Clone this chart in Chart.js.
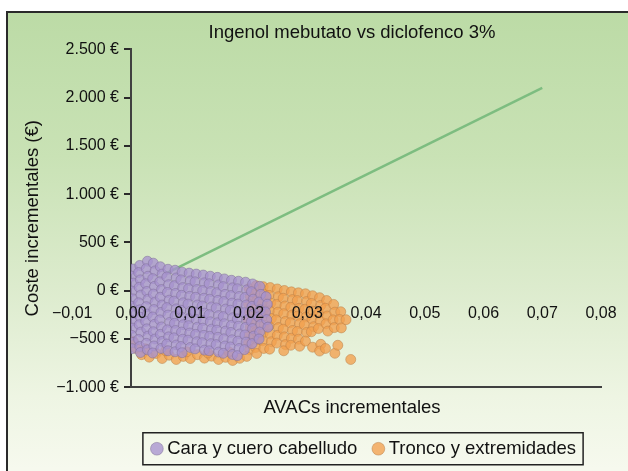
<!DOCTYPE html>
<html lang="es">
<head>
<meta charset="utf-8">
<title>Ingenol mebutato vs diclofenco 3%</title>
<script src="https://cdn.jsdelivr.net/npm/chart.js@4/dist/chart.umd.min.js"></script>
<style>
  html, body { margin: 0; padding: 0; overflow: hidden; background: #fff; }
  #marco {
    position: absolute; left: 6px; top: 11px;
    width: 720px; height: 480px;
    border: 2px solid #2a2a2a;
    background: linear-gradient(to bottom, #bcdba6 0%, #c9e2b5 30%, #dcebcd 57%, #eef5e3 80%, #f6f9ee 95%);
  }
  #chart { position: absolute; left: 0; top: 0; }
</style>
</head>
<body>
<div id="marco"><canvas id="chart" width="688" height="455"></canvas></div>
<script>
// ticks de los ejes
const yTicks = [-1000, -500, 0, 500, 1000, 1500, 2000, 2500];
const yTickLabels = ['−1.000 €', '−500 €', '0 €', '500 €', '1.000 €', '1.500 €', '2.000 €', '2.500 €'];
const xTicks = [-0.01, 0, 0.01, 0.02, 0.03, 0.04, 0.05, 0.06, 0.07, 0.08];
const xTickLabels = ['−0,01', '0,00', '0,01', '0,02', '0,03', '0,04', '0,05', '0,06', '0,07', '0,08'];

const series = ['Cara y cuero cabelludo', 'Tronco y extremidades'];

// umbral de disponibilidad a pagar (recta)
const umbral = [[0.0058, 174], [0.07, 2100]];

// nube de simulaciones: [AVAC incremental, coste incremental]
const caraPoints = [
  [0.0003,225],[0.0001,150],[0.0004,78],[0.0002,-5],[0.0003,-85],[0.0001,-162],[0.0004,-238],[0.0002,-312],[0.0003,-388],[0.0001,-462],[0.0004,-535],[0.0002,-600],
  [0.0015,262],[0.0013,188],[0.0016,112],[0.0014,35],[0.0017,-45],[0.0013,-125],[0.0015,-198],[0.0016,-275],[0.0014,-352],[0.0017,-428],[0.0013,-505],[0.0015,-578],[0.0016,-640],
  [0.0028,305],[0.0026,228],[0.0029,150],[0.0025,72],[0.0027,-8],[0.0029,-88],[0.0026,-165],[0.0028,-242],[0.0025,-318],[0.0027,-395],[0.0029,-470],[0.0026,-545],[0.0028,-612],
  [0.0038,285],[0.0041,205],[0.0037,125],[0.0040,45],[0.0038,-35],[0.0041,-118],[0.0039,-195],[0.0037,-272],[0.0040,-348],[0.0038,-425],[0.0041,-500],[0.0039,-572],[0.0037,-645],
  [0.0050,248],[0.0053,172],[0.0049,92],[0.0052,12],[0.0050,-68],[0.0053,-148],[0.0051,-225],[0.0049,-302],[0.0052,-375],[0.0050,-452],[0.0053,-525],[0.0051,-598],
  [0.0063,222],[0.0061,142],[0.0064,62],[0.0062,-18],[0.0065,-98],[0.0061,-175],[0.0063,-252],[0.0066,-328],[0.0062,-405],[0.0064,-478],[0.0061,-552],[0.0063,-622],
  [0.0075,212],[0.0077,132],[0.0074,52],[0.0076,-28],[0.0073,-108],[0.0077,-188],[0.0075,-262],[0.0074,-338],[0.0076,-412],[0.0073,-488],[0.0077,-562],[0.0075,-632],
  [0.0087,192],[0.0085,112],[0.0088,32],[0.0086,-48],[0.0089,-125],[0.0085,-202],[0.0087,-278],[0.0089,-352],[0.0086,-428],[0.0088,-502],[0.0085,-578],[0.0087,-642],
  [0.0099,182],[0.0101,102],[0.0098,22],[0.0100,-58],[0.0097,-138],[0.0101,-212],[0.0099,-288],[0.0098,-362],[0.0100,-438],[0.0097,-512],[0.0101,-588],
  [0.0111,172],[0.0109,92],[0.0112,12],[0.0110,-68],[0.0113,-148],[0.0109,-222],[0.0111,-298],[0.0113,-378],[0.0110,-452],[0.0112,-528],[0.0109,-602],
  [0.0123,162],[0.0125,82],[0.0122,2],[0.0124,-78],[0.0121,-158],[0.0125,-232],[0.0123,-308],[0.0122,-388],[0.0124,-462],[0.0121,-538],[0.0125,-615],
  [0.0135,150],[0.0133,72],[0.0136,-8],[0.0134,-88],[0.0137,-168],[0.0133,-248],[0.0135,-322],[0.0137,-398],[0.0134,-472],[0.0136,-548],[0.0133,-622],
  [0.0147,138],[0.0149,60],[0.0146,-20],[0.0148,-100],[0.0145,-178],[0.0149,-258],[0.0147,-332],[0.0146,-408],[0.0148,-482],[0.0145,-558],[0.0149,-635],
  [0.0159,122],[0.0157,42],[0.0160,-38],[0.0158,-112],[0.0161,-190],[0.0157,-268],[0.0159,-342],[0.0161,-418],[0.0158,-498],[0.0160,-572],[0.0157,-648],
  [0.0171,108],[0.0173,30],[0.0170,-50],[0.0172,-128],[0.0169,-202],[0.0173,-280],[0.0171,-358],[0.0170,-432],[0.0172,-508],[0.0169,-582],[0.0173,-660],
  [0.0183,98],[0.0181,20],[0.0184,-60],[0.0182,-138],[0.0185,-218],[0.0181,-292],[0.0183,-368],[0.0185,-448],[0.0182,-522],[0.0184,-598],[0.0181,-672],
  [0.0195,88],[0.0197,8],[0.0194,-70],[0.0196,-148],[0.0193,-228],[0.0197,-302],[0.0195,-380],[0.0194,-458],[0.0196,-532],[0.0193,-610],
  [0.0207,70],[0.0205,-10],[0.0208,-88],[0.0206,-162],[0.0209,-240],[0.0205,-318],[0.0207,-392],[0.0209,-470],[0.0206,-548],
  [0.0219,45],[0.0221,-38],[0.0218,-118],[0.0220,-198],[0.0217,-272],[0.0221,-350],[0.0219,-428],[0.0218,-500],
  [0.0230,-62],[0.0232,-140],[0.0229,-220],[0.0231,-300],[0.0233,-378]
];

const troncoPoints = [
  [0.0201,22],[0.0203,-58],[0.0200,-138],[0.0202,-218],[0.0199,-298],[0.0203,-378],[0.0201,-458],[0.0200,-538],[0.0202,-612],
  [0.0213,52],[0.0211,-28],[0.0214,-108],[0.0212,-188],[0.0215,-268],[0.0211,-348],[0.0213,-428],[0.0215,-508],[0.0212,-588],[0.0214,-650],
  [0.0225,42],[0.0227,-38],[0.0224,-118],[0.0226,-198],[0.0223,-278],[0.0227,-358],[0.0225,-438],[0.0224,-518],[0.0226,-598],
  [0.0237,32],[0.0235,-48],[0.0238,-128],[0.0236,-208],[0.0239,-288],[0.0235,-368],[0.0237,-448],[0.0239,-528],[0.0236,-605],
  [0.0249,18],[0.0251,-62],[0.0248,-142],[0.0250,-222],[0.0247,-302],[0.0251,-382],[0.0249,-462],[0.0248,-542],
  [0.0261,2],[0.0259,-78],[0.0262,-158],[0.0260,-238],[0.0263,-318],[0.0259,-398],[0.0261,-478],[0.0263,-558],[0.0260,-622],
  [0.0273,-12],[0.0275,-92],[0.0272,-172],[0.0274,-252],[0.0271,-332],[0.0275,-412],[0.0273,-492],[0.0272,-565],
  [0.0285,-22],[0.0283,-102],[0.0286,-182],[0.0284,-262],[0.0287,-342],[0.0283,-422],[0.0285,-502],[0.0287,-575],
  [0.0297,-32],[0.0299,-112],[0.0296,-192],[0.0298,-272],[0.0295,-352],[0.0299,-432],[0.0297,-522],
  [0.0309,-52],[0.0307,-132],[0.0310,-212],[0.0308,-292],[0.0311,-372],[0.0307,-425],[0.0309,-585],
  [0.0321,-72],[0.0323,-152],[0.0320,-232],[0.0322,-312],[0.0319,-392],[0.0323,-555],[0.0321,-625],
  [0.0333,-102],[0.0331,-182],[0.0334,-262],[0.0332,-342],[0.0335,-418],[0.0331,-598],
  [0.0345,-142],[0.0347,-222],[0.0344,-302],[0.0346,-382],[0.0347,-648],
  [0.0357,-218],[0.0355,-298],[0.0358,-385],
  [0.0374,-712],[0.0352,-565],[0.0366,-300],
  [0.0004,-525],[0.0009,-598],[0.0018,-662],[0.0031,-688],[0.0043,-650],[0.0053,-702],[0.0065,-668],[0.0077,-712],
  [0.0089,-680],[0.0101,-702],[0.0113,-662],[0.0125,-698],[0.0137,-678],[0.0149,-712],[0.0161,-690],[0.0173,-722],
  [0.0185,-700],[0.0197,-680],[0.0024,-600],[0.0059,-622],[0.0095,-632],[0.0131,-645],[0.0167,-635]
];

const FONT = "'Liberation Sans', Arial, Helvetica, sans-serif";
Chart.defaults.font.family = FONT;
Chart.defaults.color = '#111';

const toXY = (arr) => arr.map(p => ({ x: p[0], y: p[1] }));

// marco de la leyenda
const cajaLeyenda = {
  id: 'cajaLeyenda',
  afterDraw(chart) {
    const hb = chart.legend && chart.legend.legendHitBoxes;
    if (!hb || !hb.length) return;
    const first = hb[0], last = hb[hb.length - 1];
    const cy = first.top + first.height / 2;
    const ctx = chart.ctx;
    ctx.save();
    ctx.strokeStyle = '#222';
    ctx.lineWidth = 1.5;
    ctx.strokeRect(first.left - 13, cy - 16, last.left + last.width - first.left + 20, 32);
    ctx.restore();
  }
};

document.addEventListener('DOMContentLoaded', function () {
  const ctx = document.getElementById('chart').getContext('2d');

  new Chart(ctx, {
    type: 'scatter',
    data: {
      datasets: [
        {
          label: series[0],
          data: toXY(caraPoints),
          pointRadius: 5,
          pointStyle: 'circle',
          backgroundColor: 'rgba(166,146,206,0.78)',
          borderColor: 'rgba(125,110,150,0.5)',
          borderWidth: 1
        },
        {
          label: series[1],
          data: toXY(troncoPoints),
          pointRadius: 5,
          pointStyle: 'circle',
          backgroundColor: 'rgba(242,160,78,0.78)',
          borderColor: 'rgba(185,125,70,0.5)',
          borderWidth: 1
        },
        {
          label: 'umbral',
          data: toXY(umbral),
          showLine: true,
          pointRadius: 0,
          borderColor: '#7dbd80',
          borderWidth: 2.5
        }
      ]
    },
    options: {
      responsive: false,
      animation: false,
      layout: { padding: 0 },
      scales: {
        x: {
          type: 'linear',
          position: 'bottom',
          min: 0,
          max: 0.08,
          grid: { display: false, drawTicks: false },
          border: { display: true, color: '#404040', width: 2 },
          ticks: { display: false }
        },
        x2: {
          type: 'linear',
          axis: 'x',
          position: { y: 0 },
          min: 0,
          max: 0.08,
          grid: { display: false, drawTicks: false },
          border: { display: false },
          afterBuildTicks: (s) => { s.ticks = xTicks.map(v => ({ value: v })); },
          ticks: {
            z: 1,
            autoSkip: false,
            maxRotation: 0,
            padding: 13,
            font: { size: 16 },
            color: '#111',
            callback: (v, i) => xTickLabels[i]
          }
        },
        y: {
          type: 'linear',
          position: 'left',
          min: -1000,
          max: 2500,
          afterFit: (s) => { s.width = 123; },
          afterBuildTicks: (s) => { s.ticks = yTicks.map(v => ({ value: v })); },
          grid: { drawOnChartArea: false, drawTicks: true, tickLength: 7, color: '#2a2a2a', lineWidth: 2 },
          border: { display: true, color: '#404040', width: 2 },
          ticks: {
            padding: 5,
            font: { size: 16 },
            color: '#111',
            callback: (v, i) => yTickLabels[i]
          },
          title: {
            display: true,
            text: 'Coste incrementales (€)',
            font: { size: 18.5 },
            color: '#111',
            padding: { top: 14, bottom: 0 }
          }
        },
        yR: {
          type: 'linear',
          axis: 'y',
          position: 'right',
          afterFit: (s) => { s.width = 95; },
          grid: { display: false, drawTicks: false },
          border: { display: false },
          ticks: { display: false }
        }
      },
      plugins: {
        title: {
          display: true,
          text: 'Ingenol mebutato vs diclofenco 3%',
          font: { size: 18.5, weight: 'normal' },
          color: '#111',
          padding: { top: 9, bottom: 5 }
        },
        subtitle: {
          display: true,
          position: 'bottom',
          weight: 500,
          text: 'AVACs incrementales',
          font: { size: 18.5, weight: 'normal' },
          color: '#111',
          padding: { top: 10, bottom: 0 }
        },
        legend: {
          position: 'bottom',
          fullSize: false,
          labels: {
            usePointStyle: true,
            boxWidth: 2,
            boxHeight: 9,
            padding: 20,
            font: { size: 18.5 },
            color: '#111',
            filter: (item) => item.datasetIndex < 2
          }
        },
        tooltip: { enabled: false }
      }
    },
    plugins: [cajaLeyenda]
  });
});
</script>
</body>
</html>
